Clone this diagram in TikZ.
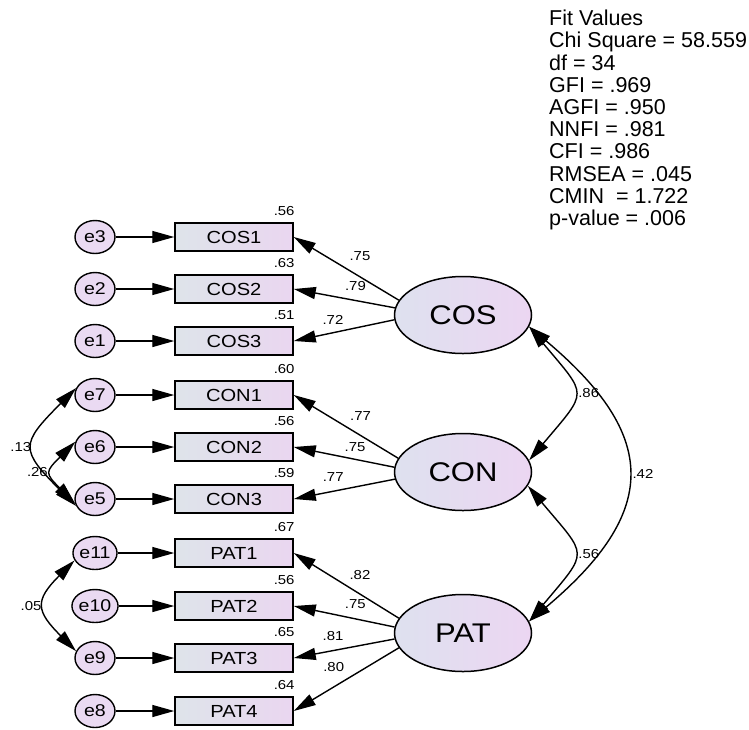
\documentclass[tikz,border=0pt]{standalone}
\usepackage{fontspec}
\setmainfont{Liberation Sans}
\newfontfamily\diagfont{Liberation Sans}[FakeStretch=1.15]
\usetikzlibrary{arrows.meta,shapes.geometric}

\definecolor{boxl}{HTML}{DEE4EA}
\definecolor{boxr}{HTML}{EAD6F0}
\definecolor{latl}{HTML}{DEE1EF}
\definecolor{latr}{HTML}{ECD6F2}
\definecolor{errfill}{HTML}{EADAF2}

\tikzset{
  obs/.style={draw, line width=1.5pt, minimum width=118pt, minimum height=28pt,
    inner sep=0pt, left color=boxl, right color=boxr,
    font=\diagfont\fontsize{17.5}{17.5}\selectfont},
  err/.style={ellipse, draw, line width=1.4pt, minimum width=40pt, minimum height=33pt,
    inner sep=0pt, fill=errfill, font=\diagfont\fontsize{17}{17}\selectfont},
  lat/.style={ellipse, draw, line width=1.5pt, minimum width=137pt, minimum height=77pt,
    inner sep=0pt, left color=latl, right color=latr,
    font=\diagfont\fontsize{27}{27}\selectfont},
  coef/.style={font=\diagfont\fontsize{13}{13}\selectfont, inner sep=1pt},
  var/.style={coef, anchor=south east, xshift=2pt, yshift=5pt},
  load/.style={line width=1.4pt, -{Triangle[length=22pt,width=12pt]}},
  cov/.style={line width=1.4pt, {Triangle[length=22pt,width=12pt]}-{Triangle[length=22pt,width=12pt]}},
  fitvals/.style={font=\fontsize{21.5}{22.2}\selectfont, align=left, inner sep=0pt, anchor=north west},
}

\begin{document}
\begin{tikzpicture}[x=1pt, y=1pt]
    \path[fill=white] (0,0) rectangle (749,-729);

    % error terms
    \node[err] (e3) at (95,-237) {e3};
    \node[err] (e2) at (95,-289) {e2};
    \node[err] (e1) at (95,-341) {e1};
    \node[err] (e7) at (95,-395) {e7};
    \node[err] (e6) at (95,-447) {e6};
    \node[err] (e5) at (95,-499) {e5};
    \node[err] (e11) at (95,-553) {e11};
    \node[err] (e10) at (95,-606) {e10};
    \node[err] (e9) at (95,-658) {e9};
    \node[err] (e8) at (95,-711) {e8};

    % observed variables
    \node[obs, label={[var]north east:.56}] (cos1) at (234,-237) {COS1};
    \node[obs, label={[var]north east:.63}] (cos2) at (234,-289) {COS2};
    \node[obs, label={[var]north east:.51}] (cos3) at (234,-341) {COS3};
    \node[obs, label={[var]north east:.60}] (con1) at (234,-395) {CON1};
    \node[obs, label={[var]north east:.56}] (con2) at (234,-447) {CON2};
    \node[obs, label={[var]north east:.59}] (con3) at (234,-499) {CON3};
    \node[obs, label={[var]north east:.67}] (pat1) at (234,-553) {PAT1};
    \node[obs, label={[var]north east:.56}] (pat2) at (234,-606) {PAT2};
    \node[obs, label={[var]north east:.65}] (pat3) at (234,-658) {PAT3};
    \node[obs, label={[var]north east:.64}] (pat4) at (234,-711) {PAT4};

    % latent variables
    \node[lat] (COS) at (463,-315) {COS};
    \node[lat] (CON) at (463,-472) {CON};
    \node[lat] (PAT) at (463,-633) {PAT};

    % errors to indicators
    \draw[load] (e3) -- (cos1);
    \draw[load] (e2) -- (cos2);
    \draw[load] (e1) -- (cos3);
    \draw[load] (e7) -- (con1);
    \draw[load] (e6) -- (con2);
    \draw[load] (e5) -- (con3);
    \draw[load] (e11) -- (pat1);
    \draw[load] (e10) -- (pat2);
    \draw[load] (e9) -- (pat3);
    \draw[load] (e8) -- (pat4);

    % loadings
    \draw[load] (COS.167) -- node[coef, pos=0.37, above=14pt] {.75} (cos1.east);
    \draw[load] (COS.174) -- node[coef, pos=0.39, above=8pt] {.79} (cos2.east);
    \draw[load] (COS.184) -- node[coef, pos=0.61, above=7pt] {.72} (cos3.east);
    \draw[load] (CON.168) -- node[coef, pos=0.36, above=13pt] {.77} (con1.east);
    \draw[load] (CON.176) -- node[coef, pos=0.39, above=6.5pt] {.75} (con2.east);
    \draw[load] (CON.186) -- node[coef, pos=0.61, above=8.5pt] {.77} (con3.east);
    \draw[load] (PAT.167) -- node[coef, pos=0.37, above=13pt] {.82} (pat1.east);
    \draw[load] (PAT.175) -- node[coef, pos=0.39, above=8.5pt] {.75} (pat2.east);
    \draw[load] (PAT.185) -- node[coef, pos=0.61, above=8pt] {.81} (pat3.east);
    \draw[load] (PAT.193) -- node[coef, pos=0.62, above=14pt] {.80} (pat4.east);

    % factor covariances
    \draw[cov] (COS.-10) to[out=-50, in=50, looseness=1.77] node[coef, right=3pt] {.86} (CON.10);
    \draw[cov] (CON.-12) to[out=-50, in=50, looseness=1.77] node[coef, right=3pt] {.56} (PAT.10);
    \draw[cov] (COS.-10) to[out=-40, in=40, looseness=1.48] node[coef, right=4pt] {.42} (PAT.10);

    % error covariances
    \draw[cov] (e7.160) to[out=225, in=135, looseness=1.73] node[coef, left=1pt] {.13} (e5.200);
    \draw[cov] (e6.165) to[out=225, in=135, looseness=1.77] node[coef, left=3pt] {.26} (e5.192);
    \draw[cov] (e11.200) to[out=225, in=135, looseness=1.6] node[coef, left=2pt] {.05} (e9.160);

    \node[fitvals] (fit) at (549,-10) {Fit Values\\Chi Square = 58.559\\df = 34\\GFI = .969\\AGFI = .950\\NNFI = .981\\CFI = .986\\RMSEA = .045\\CMIN~ = 1.722\\p-value = .006};
\end{tikzpicture}
\end{document}
